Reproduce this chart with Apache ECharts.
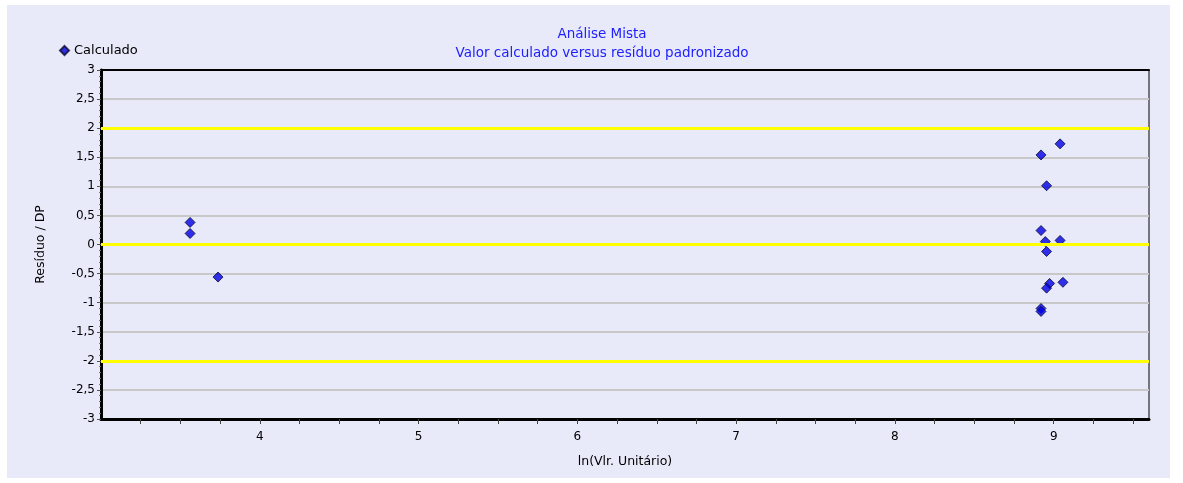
<!DOCTYPE html>
<html>
<head>
<meta charset="utf-8">
<script src="https://cdn.jsdelivr.net/npm/echarts@6/dist/echarts.min.js"></script>
<style>
  html, body { margin: 0; padding: 0; background: #ffffff; }
  #chart { width: 1183px; height: 483px; }
</style>
</head>
<body>
<div id="chart"></div>
<script>
// ln(Vlr. Unitário) vs resíduo padronizado
const lnValues = [3.561, 3.561, 3.737, 9.04, 8.92, 8.955, 8.92, 8.947, 9.04, 8.955, 8.974, 8.955, 9.058, 8.92, 8.92];
const residuals = [0.38, 0.19, -0.56, 1.73, 1.54, 1.01, 0.24, 0.05, 0.07, -0.12, -0.67, -0.75, -0.65, -1.10, -1.15];
const limitLines = [2, 0, -2];

const points = lnValues.map((x, i) => [x, residuals[i]]);
const font = 'DejaVu Sans, Verdana, sans-serif';

const chart = echarts.init(document.getElementById('chart'));
chart.setOption({
    animation: false,
    textStyle: { fontFamily: font },
    graphic: [{
        type: 'rect',
        z: -10,
        shape: { x: 7, y: 5, width: 1163, height: 473 },
        style: { fill: '#e8eafa' }
    }],
    title: {
        text: 'Análise Mista\nValor calculado versus resíduo padronizado',
        left: 597,
        top: 20,
        textAlign: 'center',
        textStyle: { color: '#2020ff', fontSize: 13.5, fontWeight: 'normal', lineHeight: 19, fontFamily: font }
    },
    legend: {
        left: 54,
        top: 39,
        itemWidth: 9,
        itemHeight: 9,
        itemGap: 6,
        textStyle: { color: '#000', fontSize: 13, fontFamily: font },
        data: [{ name: 'Calculado', icon: 'diamond' }]
    },
    grid: {
        left: 101, right: 34, top: 70, bottom: 64,
        show: true, borderColor: '#000', borderWidth: 1, backgroundColor: 'transparent'
    },
    xAxis: [{
        type: 'value',
        min: 3, max: 9.6, interval: 0.25,
        name: 'ln(Vlr. Unitário)',
        nameLocation: 'middle',
        nameGap: 36,
        nameTextStyle: { color: '#000', fontSize: 12.5 },
        axisLine: { show: true, onZero: false, lineStyle: { color: '#000', width: 3 } },
        axisTick: { show: true, length: 5, lineStyle: { color: '#444' } },
        axisLabel: {
            color: '#000', fontSize: 12, margin: 12,
            showMinLabel: false, showMaxLabel: false,
            formatter: v => (Math.abs(v - Math.round(v)) < 1e-6 ? String(Math.round(v)) : '')
        },
        splitLine: { show: false }
    }, {
        type: 'value',
        position: 'top',
        min: 3, max: 9.6,
        axisLine: { show: true, onZero: false, lineStyle: { color: '#000', width: 2 } },
        axisTick: { show: false },
        axisLabel: { show: false },
        splitLine: { show: false }
    }],
    yAxis: {
        type: 'value',
        min: -3, max: 3, interval: 0.5,
        name: 'Resíduo / DP',
        nameLocation: 'middle',
        nameGap: 54,
        nameTextStyle: { color: '#000', fontSize: 12.5 },
        axisLine: { show: true, onZero: false, lineStyle: { color: '#000', width: 3 } },
        axisTick: { show: true, length: 4, lineStyle: { color: '#555' } },
        minorTick: { show: true, splitNumber: 5, length: 2, lineStyle: { color: '#777' } },
        axisLabel: {
            color: '#000', fontSize: 12, margin: 6,
            formatter: v => String(v).replace('.', ',')
        },
        splitLine: { show: true, lineStyle: { color: '#c8c8c8', width: 2 } }
    },
    series: [{
        name: 'Calculado',
        type: 'scatter',
        symbol: 'diamond',
        symbolSize: 10,
        itemStyle: { color: '#0000e6', borderColor: '#0a0a30', borderWidth: 1 },
        data: points,
        markLine: {
            silent: true,
            symbol: 'none',
            label: { show: false },
            lineStyle: { color: '#ffff00', width: 3, type: 'solid' },
            data: limitLines.map(v => ({ yAxis: v }))
        }
    }]
});
</script>
</body>
</html>
